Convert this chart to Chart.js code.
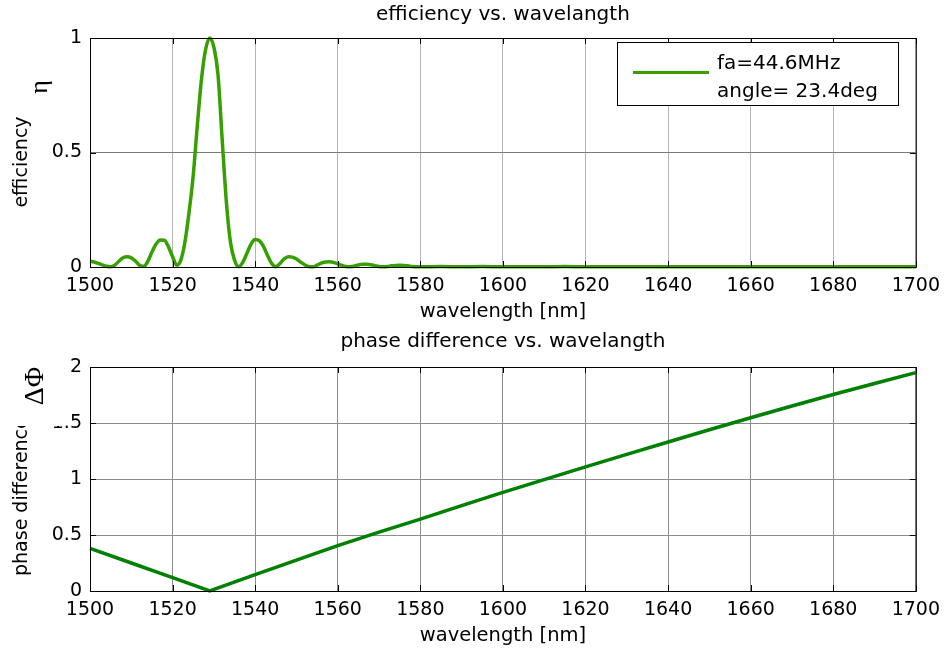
<!DOCTYPE html>
<html>
<head>
<meta charset="utf-8">
<title>efficiency / phase difference vs. wavelength</title>
<script src="https://cdn.jsdelivr.net/npm/chart.js@4"></script>
<style>
  html, body { margin: 0; padding: 0; background: #fff; }
  canvas { display: block; }
</style>
</head>
<body>
<canvas id="effChart" width="948" height="325"></canvas>
<canvas id="phaseChart" width="948" height="332"></canvas>
<script>
// --- data ---
const waveTop = [
  1500,1501,1502,1503,1504,1505,1506,1507,1508,1509,
  1510,1511,1512,1513,1514,1515,1516,1517,1518,1519,
  1520,1521,1522,1523,1524,1525,1526,1527,1528,1529,
  1530,1531,1532,1533,1534,1535,1536,1537,1538,1539,
  1540,1541,1542,1543,1544,1545,1546,1547,1548,1549,
  1550,1551,1552,1553,1554,1555,1556,1557,1558,1559,
  1560,1561,1562,1563,1564,1565,1566,1567,1568,1569,
  1570,1571,1572,1573,1574,1575,1576,1577,1578,1579,
  1580,1585,1590,1595,1600,1605,1610,1615,1620,1625,
  1630,1635,1640,1645,1650,1655,1660,1665,1670,1675,
  1680,1685,1690,1695,1700
];
const efficiency = [
  0.025,0.022,0.016,0.009,0.003,0.001,0.008,0.025,0.040,0.045,
  0.040,0.026,0.008,0.003,0.025,0.065,0.100,0.118,0.117,0.088,
  0.045,0.008,0.030,0.110,0.240,0.400,0.620,0.820,0.950,1.000,
  0.960,0.840,0.560,0.290,0.110,0.030,0.001,0.020,0.060,0.100,
  0.120,0.115,0.090,0.050,0.015,0.001,0.015,0.035,0.045,0.043,
  0.035,0.022,0.010,0.002,0.001,0.008,0.017,0.022,0.023,0.020,
  0.014,0.007,0.002,0.001,0.004,0.009,0.012,0.012,0.010,0.006,
  0.002,0.001,0.002,0.005,0.007,0.008,0.007,0.005,0.002,0.001,
  0.001,0.002,0.001,0.002,0.001,0.001,0.001,0.002,0.001,0.001,
  0.001,0.001,0.001,0.001,0.001,0.001,0.001,0.001,0.001,0.001,
  0.001,0.001,0.001,0.001,0.001
];
const wavePhase = [1500,1510,1520,1529,1540,1550,1560,1570,1580,1590,1600,
                   1610,1620,1630,1640,1650,1660,1670,1680,1690,1700];
const phaseDiff = [0.38,0.25,0.12,0.0,0.147,0.275,0.405,0.525,0.642,0.762,0.881,
                   0.995,1.108,1.22,1.33,1.44,1.547,1.652,1.754,1.853,1.95];
const legendLines = ['fa=44.6MHz', 'angle= 23.4deg'];

const SANS = '"DejaVu Sans", sans-serif';
const SERIF = '"Liberation Serif", serif';

// --- plugins ---
// black box round the plot area, with short inward ticks
const frameTicks = {
  id: 'frameTicks',
  afterDraw(chart) {
    const {ctx, chartArea: a, scales} = chart;
    ctx.save();
    ctx.strokeStyle = '#000';
    ctx.lineWidth = 1;
    ctx.beginPath();
    scales.x.ticks.forEach(t => {
      const px = Math.round(scales.x.getPixelForValue(t.value)) + 0.5;
      ctx.moveTo(px, a.bottom); ctx.lineTo(px, a.bottom - 6);
      ctx.moveTo(px, a.top);    ctx.lineTo(px, a.top + 6);
    });
    scales.y.ticks.forEach(t => {
      const py = Math.round(scales.y.getPixelForValue(t.value)) + 0.5;
      ctx.moveTo(a.left, py);  ctx.lineTo(a.left + 6, py);
      ctx.moveTo(a.right, py); ctx.lineTo(a.right - 6, py);
    });
    ctx.stroke();
    ctx.strokeRect(a.left + 0.5, a.top + 0.5, a.right - a.left, a.bottom - a.top);
    ctx.restore();
  }
};

// rotated y labels (and a white mask like the original figure has)
function sideLabels(ops) {
  return {
    id: 'sideLabels',
    afterDraw(chart) {
      const ctx = chart.ctx;
      ops.forEach(op => {
        ctx.save();
        if (op.mask) {
          ctx.fillStyle = '#fff';
          ctx.fillRect(op.mask[0], op.mask[1], op.mask[2], op.mask[3]);
        } else {
          ctx.translate(op.x, op.y);
          ctx.rotate(-Math.PI / 2);
          ctx.font = op.font;
          ctx.fillStyle = '#000';
          ctx.textAlign = op.align || 'center';
          ctx.textBaseline = 'middle';
          ctx.fillText(op.text, 0, 0);
        }
        ctx.restore();
      });
    }
  };
}

const boxLegend = {
  id: 'boxLegend',
  afterDraw(chart) {
    const ctx = chart.ctx;
    ctx.save();
    ctx.fillStyle = '#fff';
    ctx.fillRect(617, 42, 281, 63);
    ctx.strokeStyle = '#000';
    ctx.lineWidth = 1;
    ctx.strokeRect(617.5, 42.5, 281, 63);
    ctx.strokeStyle = chart.data.datasets[0].borderColor;
    ctx.lineWidth = 3;
    ctx.beginPath();
    ctx.moveTo(633, 72.5); ctx.lineTo(709, 72.5);
    ctx.stroke();
    ctx.fillStyle = '#000';
    ctx.font = '20px ' + SANS;
    ctx.textBaseline = 'middle';
    ctx.fillText(legendLines[0], 717, 64);
    ctx.fillText(legendLines[1], 717, 92);
    ctx.restore();
  }
};

function baseOptions(title, titlePad, yMax, xGrid, yGrid, xTitlePad, xHeight) {
  return {
    responsive: false,
    animation: false,
    events: [],
    layout: { padding: { left: 0, right: 31, top: 0, bottom: 0 } },
    plugins: {
      legend: { display: false },
      tooltip: { enabled: false },
      title: {
        display: true, text: title, fullSize: false, color: '#000',
        font: { family: SANS, size: 20, weight: 'normal', lineHeight: 1.2 },
        padding: titlePad
      }
    },
    scales: {
      x: {
        type: 'linear', min: 1500, max: 1700,
        afterFit: s => { s.height = xHeight; },
        border: { display: false },
        grid: { color: xGrid, lineWidth: 1, drawTicks: false },
        ticks: { stepSize: 20, padding: 8, color: '#000', maxRotation: 0,
                 font: { family: SANS, size: 19 }, callback: v => String(v) },
        title: { display: true, text: 'wavelength [nm]', color: '#000',
                 font: { family: SANS, size: 19.5 }, padding: { top: 0, bottom: xTitlePad } }
      },
      y: {
        min: 0, max: yMax,
        afterFit: s => { s.width = 90; },
        border: { display: false },
        grid: { color: yGrid, lineWidth: 1, drawTicks: false },
        ticks: { stepSize: 0.5, padding: 8, color: '#000',
                 font: { family: SANS, size: 19 }, callback: v => String(v) }
      }
    }
  };
}

// --- top chart: efficiency ---
new Chart(document.getElementById('effChart'), {
  type: 'line',
  data: {
    datasets: [{
      label: legendLines.join(' '),
      data: waveTop.map((w, i) => ({ x: w, y: efficiency[i] })),
      borderColor: '#36a000',
      borderWidth: 3.5,
      pointRadius: 0,
      cubicInterpolationMode: 'monotone',
      clip: 4
    }]
  },
  options: baseOptions('efficiency vs. wavelangth', { top: 3, bottom: 11 }, 1,
                       '#b4b4b4', '#7a7a7a', 1.3, 58),
  plugins: [frameTicks, boxLegend, sideLabels([
    { text: 'efficiency', x: 22, y: 162, font: '19px ' + SANS },
    { text: 'η', x: 40, y: 87, font: '26px ' + SERIF }
  ])]
});

// --- bottom chart: phase difference ---
new Chart(document.getElementById('phaseChart'), {
  type: 'line',
  data: {
    datasets: [{
      label: 'phase difference',
      data: wavePhase.map((w, i) => ({ x: w, y: phaseDiff[i] })),
      borderColor: '#008000',
      borderWidth: 3.5,
      pointRadius: 0,
      tension: 0,
      clip: 4
    }]
  },
  options: baseOptions('phase difference vs. wavelangth', { top: 5, bottom: 13 }, 2,
                       '#8c8c8c', '#8c8c8c', 9.3, 66),
  plugins: [frameTicks, sideLabels([
    { text: 'phase difference', x: 22, y: 251, font: '19px ' + SANS, align: 'left' },
    { mask: [4, 30, 59, 71] },
    { text: 'ΔΦ', x: 36, y: 61, font: '28px ' + SERIF }
  ])]
});
</script>
</body>
</html>
